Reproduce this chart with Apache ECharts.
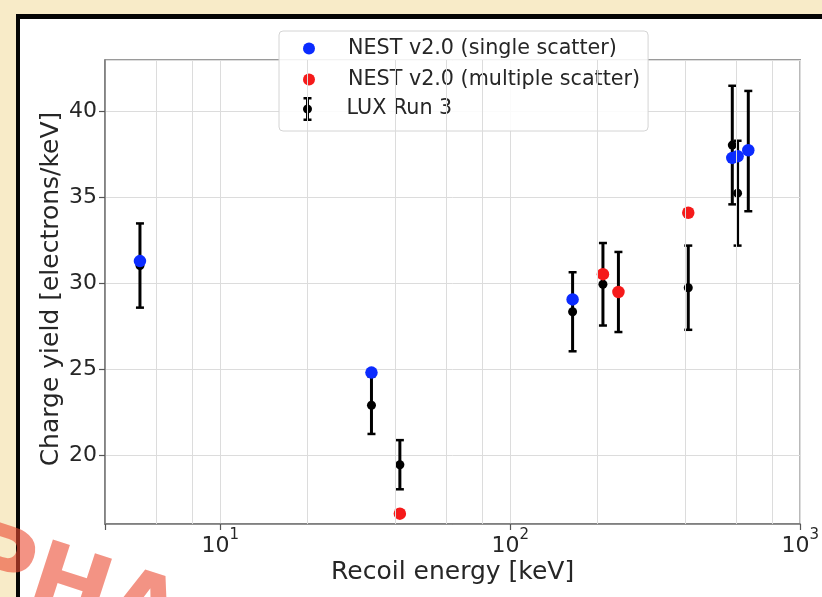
<!DOCTYPE html>
<html><head><meta charset="utf-8">
<script src="https://cdn.jsdelivr.net/npm/echarts@6/dist/echarts.min.js"></script>
<style>
html,body{margin:0;padding:0;width:822px;height:597px;overflow:hidden;background:#f8ebc8;}
#frame{position:absolute;left:16px;top:14px;right:0;bottom:0;background:#fff;border-top:5px solid #050505;border-left:4px solid #050505;}
#chart{position:absolute;left:0;top:0;width:822px;height:597px;}
</style></head><body>
<div id="frame"></div>
<div id="chart"></div>
<script>
// LUX Run 3 measurements (recoil energy keV, charge yield, symmetric error)
const luxEnergy = [5.28, 33.2, 41.6, 164, 208.7, 236, 411, 583, 608, 662];
const luxYield  = [31.04, 22.91, 19.45, 28.35, 29.95, 29.5, 29.75, 38.05, 35.25, 37.7];
const luxError  = [2.45, 1.67, 1.43, 2.3, 2.4, 2.33, 2.45, 3.45, 3.05, 3.5];
// NEST v2.0 single scatter
const nestSingleEnergy = [5.28, 33.2, 164, 583, 608, 662];
const nestSingleYield  = [31.3, 24.81, 29.07, 37.3, 37.4, 37.75];
// NEST v2.0 multiple scatter
const nestMultiEnergy = [41.6, 208.7, 236, 411];
const nestMultiYield  = [16.6, 30.54, 29.5, 34.11];
// axis helpers
const xMinorGrid = [6, 8, 20, 40, 60, 80, 200, 400, 600, 800];
const xMinorTicks = [5, 6, 7, 8, 9, 20, 30, 40, 50, 60, 70, 80, 90, 200, 300, 400, 500, 600, 700, 800, 900];
const legendNames = ['NEST v2.0 (single scatter)', 'NEST v2.0 (multiple scatter)', 'LUX Run 3'];

const textColor = '#262626';
const fontFamily = 'DejaVu Sans';
const errorbarIcon = 'path://M1,0L9,0L9,2.5L6.5,2.5L6.5,7.76A4.5,4.5 0 0 1 6.5,16.24L6.5,21.5L9,21.5L9,24L1,24L1,21.5L3.5,21.5L3.5,16.24A4.5,4.5 0 0 1 3.5,7.76L3.5,2.5L1,2.5Z';

const chart = echarts.init(document.getElementById('chart'));

const gridMarks = xMinorGrid.map(v => ({xAxis: v, lineStyle: {color: '#dcdcdc', width: 1, type: 'solid'}}));
const tickMarks = xMinorTicks.map(v => [
  {coord: [v, 16], lineStyle: {color: '#666', width: 1, type: 'solid'}},
  {coord: [v, 15.8]}
]);

const option = {
  animation: false,
  grid: {left: 105, top: 60, right: 17, bottom: 73, show: true, borderColor: '#7a7a7a', borderWidth: 1.5},
  xAxis: {
    type: 'log', logBase: 10, min: 4, max: 1000,
    name: 'Recoil energy [keV]', nameLocation: 'middle', nameGap: 36, nameMoveOverlap: false,
    nameTextStyle: {fontSize: 25, color: textColor, fontFamily: fontFamily},
    axisLine: {show: true, lineStyle: {color: '#7a7a7a', width: 1.5}},
    axisTick: {show: true, length: 6, lineStyle: {color: '#555', width: 1.2}},
    minorTick: {show: false},
    splitLine: {show: true, lineStyle: {color: '#dcdcdc', width: 1}},
    axisLabel: {
      margin: 4, color: textColor, fontFamily: fontFamily,
      formatter: function (v) {
        const p = Math.log10(v), r = Math.round(p);
        if (Math.abs(p - r) > 1e-6) return '';
        return '{b|10}{s|' + r + '}';
      },
      rich: {
        b: {fontSize: 22, lineHeight: 29, verticalAlign: 'bottom', color: textColor, fontFamily: fontFamily},
        s: {fontSize: 15, lineHeight: 15, verticalAlign: 'top', color: textColor, fontFamily: fontFamily}
      }
    }
  },
  yAxis: {
    type: 'value', min: 16, max: 43, splitNumber: 5,
    name: 'Charge yield [electrons/keV]', nameLocation: 'middle', nameGap: 41, nameMoveOverlap: false,
    nameTextStyle: {fontSize: 25, color: textColor, fontFamily: fontFamily, padding: [0, 0, 0, 6]},
    axisLine: {show: true, lineStyle: {color: '#7a7a7a', width: 1.5}},
    axisTick: {show: true, length: 6, lineStyle: {color: '#555', width: 1.2}},
    splitLine: {show: true, lineStyle: {color: '#dcdcdc', width: 1}},
    axisLabel: {fontSize: 22, margin: 8, color: textColor, fontFamily: fontFamily, showMinLabel: false, showMaxLabel: false}
  },
  legend: [
    {
      data: [{name: legendNames[0], icon: 'circle'}, {name: legendNames[1], icon: 'circle'}],
      orient: 'vertical', left: 279, top: 31, itemWidth: 20, itemHeight: 12, itemGap: 10,
      padding: [7, 8, 41, 24], backgroundColor: 'rgba(255,255,255,0.88)', borderColor: '#d4d4d4',
      borderWidth: 1, borderRadius: 4, selectedMode: false,
      textStyle: {fontSize: 20.7, lineHeight: 20, color: textColor, fontFamily: fontFamily, padding: [0, 0, 0, 24]}
    },
    {
      data: [{name: legendNames[2], icon: errorbarIcon, itemStyle: {color: '#000'}}],
      orient: 'vertical', left: 279, top: 97, itemWidth: 20, itemHeight: 24,
      padding: [0, 0, 0, 24], selectedMode: false,
      textStyle: {fontSize: 20.7, lineHeight: 20, color: textColor, fontFamily: fontFamily, padding: [0, 0, 0, 24]}
    }
  ],
  graphic: [{
    type: 'text', x: -50, y: 603, rotation: -18 * Math.PI / 180, z: 100, silent: true,
    style: {text: 'PHA', font: 'bold 95px "DejaVu Sans"', fill: 'rgba(235,75,50,0.6)', verticalAlign: 'bottom', align: 'left'}
  }],
  series: [
    {
      name: 'axis-grid', type: 'scatter', data: [], z: 1, silent: true, clip: false,
      markLine: {
        silent: true, symbol: ['none', 'none'], label: {show: false}, animation: false,
        data: gridMarks.concat(tickMarks)
      }
    },
    {
      name: legendNames[2], type: 'custom', z: 2,
      itemStyle: {color: '#000'},
      encode: {x: 0, y: 1},
      data: luxEnergy.map((e, i) => [e, luxYield[i], luxError[i]]),
      renderItem: function (params, api) {
        const x = api.value(0), y = api.value(1), e = api.value(2);
        const lo = api.coord([x, y - e]);
        const hi = api.coord([x, y + e]);
        const c = api.coord([x, y]);
        const cap = 4;
        return {
          type: 'group', children: [
            {type: 'line', shape: {x1: lo[0], y1: lo[1], x2: hi[0], y2: hi[1]}, style: {stroke: '#000', lineWidth: 3}},
            {type: 'line', shape: {x1: hi[0] - cap, y1: hi[1], x2: hi[0] + cap, y2: hi[1]}, style: {stroke: '#000', lineWidth: 2.5}},
            {type: 'line', shape: {x1: lo[0] - cap, y1: lo[1], x2: lo[0] + cap, y2: lo[1]}, style: {stroke: '#000', lineWidth: 2.5}},
            {type: 'circle', shape: {cx: c[0], cy: c[1], r: 4.5}, style: {fill: '#000'}}
          ]
        };
      }
    },
    {
      name: legendNames[0], type: 'scatter', z: 3, symbol: 'circle', symbolSize: 12.5,
      itemStyle: {color: '#0b2bff', opacity: 1},
      data: nestSingleEnergy.map((e, i) => [e, nestSingleYield[i]])
    },
    {
      name: legendNames[1], type: 'scatter', z: 3, symbol: 'circle', symbolSize: 12.5,
      itemStyle: {color: '#f51a1a', opacity: 1},
      data: nestMultiEnergy.map((e, i) => [e, nestMultiYield[i]])
    }
  ]
};
chart.setOption(option);
</script>
</body></html>
